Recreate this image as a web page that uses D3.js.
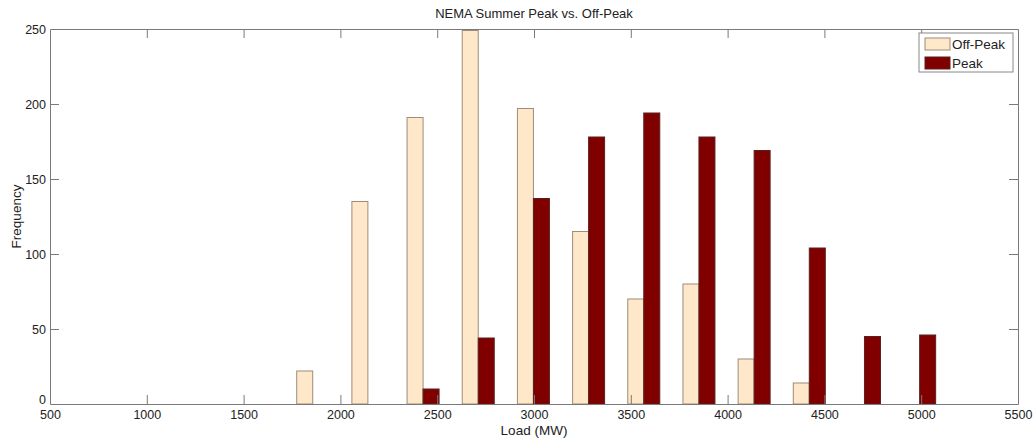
<!DOCTYPE html>
<html>
<head>
<meta charset="utf-8">
<script src="https://cdn.jsdelivr.net/npm/d3@7"></script>
<style>
  body { margin: 0; background: #fff; }
  text { font-family: "Liberation Sans", Arial, sans-serif; fill: #222; }
</style>
</head>
<body>
<div class="chart"></div>
<script>
// bin centres (MW) and counts per bin
var binCenters = [1857, 2142, 2427, 2712, 2997, 3282, 3567, 3852, 4137, 4422, 4707, 4992];
var offPeak = [22, 135, 191, 249, 197, 115, 70, 80, 30, 14, 0, 0];
var peak = [0, 0, 10, 44, 137, 178, 194, 178, 169, 104, 45, 46];
var xTicks = [500, 1000, 1500, 2000, 2500, 3000, 3500, 4000, 4500, 5000, 5500];
var yTicks = [0, 50, 100, 150, 200, 250];
var seriesNames = ["Off-Peak", "Peak"];

var W = 1036, H = 440;
var m = {left: 50, right: 18, top: 29, bottom: 36};

var svg = d3.select(".chart").append("svg")
  .attr("width", W)
  .attr("height", H);

var x = d3.scaleLinear().domain([500, 5500]).range([m.left, W - m.right]);
var y = d3.scaleLinear().domain([0, 250]).range([H - m.bottom, m.top]);

var binW = 285;
var barW = binW * 0.29;

var series = [
  {name: seriesNames[0], values: offPeak, fill: "#ffe8c9", stroke: "#9c8c78", off: -1},
  {name: seriesNames[1], values: peak, fill: "#800000", stroke: "#5a2020", off: 0}
];

series.forEach(function(s) {
  svg.append("g").selectAll("rect")
    .data(binCenters.map(function(c, i) { return {c: c, v: s.values[i]}; }))
    .enter().append("rect")
    .attr("x", function(d) { return x(d.c + s.off * barW); })
    .attr("y", function(d) { return y(d.v); })
    .attr("width", x(barW) - x(0))
    .attr("height", function(d) { return y(0) - y(d.v); })
    .style("fill", s.fill)
    .style("stroke", s.stroke)
    .style("stroke-width", 1)
    .style("display", function(d) { return d.v > 0 ? null : "none"; });
});

// axes, ticks pointing inward like matlab
var axisColor = "#7a7a7a";
var tickLen = 9;
var fmt = d3.format("d");

var xb = svg.append("g").attr("transform", "translate(0," + y(0) + ")")
  .call(d3.axisBottom(x).tickValues(xTicks).tickFormat(fmt).tickSizeInner(-tickLen).tickSizeOuter(0).tickPadding(4));
var xt = svg.append("g").attr("transform", "translate(0," + y(250) + ")")
  .call(d3.axisTop(x).tickValues(xTicks).tickSizeInner(-tickLen).tickSizeOuter(0).tickFormat(""));
var yl = svg.append("g").attr("transform", "translate(" + x(500) + ",0)")
  .call(d3.axisLeft(y).tickValues(yTicks).tickFormat(fmt).tickSizeInner(-tickLen).tickSizeOuter(0).tickPadding(4));
var yr = svg.append("g").attr("transform", "translate(" + x(5500) + ",0)")
  .call(d3.axisRight(y).tickValues(yTicks).tickSizeInner(-tickLen).tickSizeOuter(0).tickFormat(""));

[xb, xt, yl, yr].forEach(function(g) {
  g.select(".domain").attr("stroke", axisColor);
  g.selectAll(".tick line").attr("stroke", axisColor);
  g.selectAll(".tick text")
    .style("font-family", '"Liberation Sans", Arial, sans-serif')
    .style("font-size", "12.5px")
    .attr("fill", "#222");
});
// hide tick marks at the corners
xb.selectAll(".tick line").filter(function(d) { return d == 500 || d == 5500; }).remove();
xt.selectAll(".tick line").filter(function(d) { return d == 500 || d == 5500; }).remove();
yl.selectAll(".tick line").filter(function(d) { return d == 0 || d == 250; }).remove();
yr.selectAll(".tick line").filter(function(d) { return d == 0 || d == 250; }).remove();
xb.selectAll(".tick text").attr("dy", "0.9em");
// nudge the 0 label up so it sits above the 500 label
yl.selectAll(".tick text").filter(function(d) { return d == 0; }).attr("dy", "-0.05em");

svg.append("text")
  .attr("x", (x(500) + x(5500)) / 2)
  .attr("y", 18)
  .attr("text-anchor", "middle")
  .style("font-size", "13px")
  .text("NEMA Summer Peak vs. Off-Peak");

svg.append("text")
  .attr("x", (x(500) + x(5500)) / 2)
  .attr("y", 435)
  .attr("text-anchor", "middle")
  .style("font-size", "13.5px")
  .text("Load (MW)");

svg.append("text")
  .attr("transform", "translate(21," + (y(125)) + ") rotate(-90)")
  .attr("text-anchor", "middle")
  .style("font-size", "13.5px")
  .text("Frequency");

// legend
var lg = svg.append("g").attr("transform", "translate(919,33)");
lg.append("rect")
  .attr("width", 94).attr("height", 39)
  .style("fill", "#fff").style("stroke", "#888");
series.forEach(function(s, i) {
  lg.append("rect")
    .attr("x", 6).attr("y", 5 + i * 19)
    .attr("width", 25).attr("height", 12)
    .style("fill", s.fill).style("stroke", s.stroke);
  lg.append("text")
    .attr("x", 33).attr("y", 16 + i * 19)
    .style("font-size", "13.5px")
    .text(s.name);
});
</script>
</body>
</html>
